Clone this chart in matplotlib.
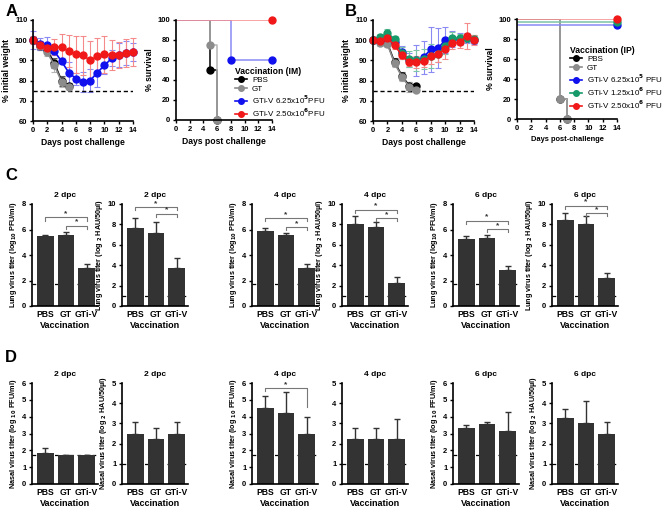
import matplotlib.pyplot as plt
from matplotlib.lines import Line2D

plt.rcParams['font.family'] = ['Liberation Sans', 'DejaVu Sans']
plt.rcParams['font.weight'] = 'bold'
plt.rcParams['axes.labelweight'] = 'bold'
plt.rcParams['axes.titleweight'] = 'bold'

# ---- data ----
days = list(range(15))

# A: weight after IM vaccination
a_pbs = [100, 97, 95, 88.5, 80, 77.5]
a_pbs_err = [1.5, 2, 2, 2.5, 2.5, 1.5]
a_gt = [100, 97, 94, 87.5, 79.5, 77]
a_gt_err = [1.5, 1.5, 2, 3, 2.5, 1]
a_low = [100, 98, 97.5, 94.5, 89.5, 84, 81, 79.5, 80, 84, 87.5, 91, 92.5, 93.5, 94]
a_low_err = [4.5, 3, 4, 2, 1.5, 5, 3, 5, 5.5, 7, 4, 4, 6, 6, 4.5]
a_high = [100, 97.5, 96, 96.5, 96.5, 94.5, 93, 92.5, 90, 92, 93, 92.7, 92.5, 93.5, 94.3]
a_high_err = [2, 2, 2.5, 4, 6.5, 8, 9, 9.5, 9.5, 9, 9, 7.5, 6.5, 7, 7]

# A: survival (step points)
a_surv_pbs_x, a_surv_pbs = [0, 5, 6], [100, 50, 0]
a_surv_gt_x, a_surv_gt = [0, 5, 6], [100, 75, 0]
a_surv_low_x, a_surv_low = [0, 8, 14], [100, 60, 60]
a_surv_high_x, a_surv_high = [0, 14], [100, 100]

# B: weight after IP vaccination
b_pbs = [100, 99.5, 98.5, 89, 82.5, 77.5, 77.2]
b_pbs_err = [1, 1, 1.5, 2, 2, 2, 0.5]
b_gt = [100, 98.5, 98, 88.5, 82, 77, 75.5]
b_gt_err = [1, 1.5, 1.5, 2, 2, 2.5, 1]
b_low = [100, 100, 101.5, 99, 94, 90, 90, 91.5, 95.5, 96, 100, 100.5, 100.5, 101, 100]
b_low_err = [1, 1.5, 2, 2, 3, 3.5, 7.5, 8, 11, 10, 6.5, 4, 3, 2.5, 2]
b_mid = [100, 101.5, 103.5, 100.5, 93.5, 90.5, 90, 90.5, 92, 93, 97, 101, 101, 101, 100.5]
b_mid_err = [1, 1.5, 2, 1.5, 3, 4, 5, 5, 6, 4, 4, 3, 2, 2, 2]
b_high = [100, 99.5, 101, 97.5, 92.5, 89, 89, 89.5, 92, 93, 95.5, 98.5, 99, 102, 100]
b_high_err = [1, 1, 2, 2, 2, 2, 3, 3, 4, 4, 5, 3, 3, 6.5, 2.5]

# B: survival
b_surv_pbs_x, b_surv_pbs = [0, 6, 7], [100, 20, 0]
b_surv_gt_x, b_surv_gt = [0, 6, 7], [100, 20, 0]
b_surv_low_x, b_surv_low = [0, 14], [94, 94]
b_surv_mid_x, b_surv_mid = [0, 14], [97, 97]
b_surv_high_x, b_surv_high = [0, 14], [100, 100]

# C / D: virus titers
groups = ['PBS', 'GT', 'GTi-V']
c_pfu2, c_pfu2_err = [5.5, 5.55, 2.95], [0.1, 0.25, 0.35]
c_hau2, c_hau2_err = [7.6, 7.15, 3.7], [1.05, 1.05, 1.0]
c_pfu4, c_pfu4_err = [5.9, 5.57, 2.97], [0.22, 0.18, 0.3]
c_hau4, c_hau4_err = [8.0, 7.7, 2.27], [0.85, 0.55, 0.55]
c_pfu6, c_pfu6_err = [5.26, 5.37, 2.82], [0.2, 0.2, 0.34]
c_hau6, c_hau6_err = [8.4, 8.0, 2.73], [0.7, 0.8, 0.5]
d_pfu2, d_pfu2_err = [1.83, 1.7, 1.7], [0.33, 0.0, 0.0]
d_hau2, d_hau2_err = [2.5, 2.25, 2.5], [0.57, 0.5, 0.57]
d_pfu4, d_pfu4_err = [4.5, 4.23, 2.95], [0.72, 1.25, 1.05]
d_hau4, d_hau4_err = [2.25, 2.25, 2.25], [0.5, 0.5, 0.95]
d_pfu6, d_pfu6_err = [3.3, 3.57, 3.12], [0.22, 0.12, 1.17]
d_hau6, d_hau6_err = [3.25, 3.0, 2.5], [0.48, 1.12, 0.57]
pfu_lod = 1.7
hau_lod = 1.0

BLACK, GRAY = '#000000', '#8c8c8c'
BLUE, GREEN, RED = '#1010ee', '#169a6a', '#f01818'
LBLUE, LGREEN, LRED, LGRAY = '#8a8af5', '#7cc4a8', '#f58a8a', '#b5b5b5'

W, H = 666, 509
fig = plt.figure(figsize=(6.66, 5.09), dpi=100)


def px_axes(l, t, r, b):
    return fig.add_axes([l / W, 1 - b / H, (r - l) / W, (b - t) / H])


def style(ax):
    for s in ['top', 'right']:
        ax.spines[s].set_visible(False)
    for s in ['left', 'bottom']:
        ax.spines[s].set_linewidth(1.2)
    ax.tick_params(width=1, length=2.5, labelsize=5.5, pad=1.5)


def weight_plot(ax, series):
    for vals, err, color, ecolor in series:
        cont = ax.errorbar(days[:len(vals)], vals, yerr=err, color=color, ecolor=ecolor,
                           elinewidth=0.8, capsize=2, capthick=0.8, marker='o', ms=5, lw=1.2)
        for art in cont.get_children():
            art.set_clip_on(False)
    ax.plot([0, 14], [75, 75], color='k', ls='--', lw=1, dashes=(3, 2))
    ax.set_xlim(0, 14)
    ax.set_ylim(60, 110)
    ax.set_xticks(range(0, 15, 2))
    ax.set_yticks(range(60, 111, 10))
    style(ax)
    ax.set_ylabel('% initial weight', fontsize=6.2, labelpad=3)
    ax.set_xlabel('Days post challenge', fontsize=6.2, labelpad=3)


def survival_plot(ax, series):
    for x, y, lcolor, mcolor in series:
        ax.step(x, y, where='post', color=lcolor, lw=1.1)
        ax.plot(x[1:], y[1:], 'o', color=mcolor, ms=5, clip_on=False)
    ax.set_xlim(0, 14)
    ax.set_ylim(0, 100)
    ax.set_xticks(range(0, 15, 2))
    ax.set_yticks(range(0, 101, 20))
    style(ax)
    ax.set_ylabel('% survival', fontsize=6.2, labelpad=3)


legend_kw = dict(loc='upper left', frameon=False, handlelength=1.5, handletextpad=0.6,
                 labelspacing=0.08, borderpad=0, borderaxespad=0, alignment='left',
                 prop={'size': 5.8, 'weight': 'normal'},
                 title_fontproperties={'size': 6.2, 'weight': 'bold'})

# ---- A ----
ax = px_axes(33, 20, 133, 121)
weight_plot(ax, [(a_pbs, a_pbs_err, BLACK, '#555555'), (a_gt, a_gt_err, GRAY, LGRAY),
                 (a_low, a_low_err, BLUE, LBLUE), (a_high, a_high_err, RED, LRED)])

ax = px_axes(176, 20, 272, 120)
survival_plot(ax, [(a_surv_pbs_x, a_surv_pbs, BLACK, BLACK), (a_surv_gt_x, a_surv_gt, LGRAY, GRAY),
                   (a_surv_low_x, a_surv_low, LBLUE, BLUE), (a_surv_high_x, a_surv_high, LRED, RED)])
ax.set_xlabel('Days post challenge', fontsize=6.2, labelpad=3)
handles = [Line2D([], [], color=c, marker='o', ms=4, lw=1.2) for c in [BLACK, GRAY, BLUE, RED]]
fig.legend(handles, ['PBS', 'GT', 'GTi-V 6.25x10$^5$PFU', 'GTi-V 2.50x10$^6$PFU'],
           title='Vaccination (IM)', bbox_to_anchor=(235 / W, 1 - 67 / H), **legend_kw)

# ---- B ----
ax = px_axes(373, 20, 474, 121)
weight_plot(ax, [(b_pbs, b_pbs_err, BLACK, '#555555'), (b_gt, b_gt_err, GRAY, LGRAY),
                 (b_low, b_low_err, BLUE, LBLUE), (b_mid, b_mid_err, GREEN, LGREEN),
                 (b_high, b_high_err, RED, LRED)])

ax = px_axes(517, 19, 617, 119)
survival_plot(ax, [(b_surv_pbs_x, b_surv_pbs, BLACK, BLACK), (b_surv_gt_x, b_surv_gt, LGRAY, GRAY),
                   (b_surv_low_x, b_surv_low, LBLUE, BLUE), (b_surv_mid_x, b_surv_mid, LGREEN, GREEN),
                   (b_surv_high_x, b_surv_high, LRED, RED)])
ax.set_xlabel('Days post-challenge', fontsize=5.4, labelpad=3)
handles = [Line2D([], [], color=c, marker='o', ms=4, lw=1.2) for c in [BLACK, GRAY, BLUE, GREEN, RED]]
fig.legend(handles, ['PBS', 'GT', 'GTi-V 6.25x10$^5$ PFU', 'GTi-V 1.25x10$^6$ PFU', 'GTi-V 2.50x10$^6$ PFU'],
           title='Vaccination (IP)', bbox_to_anchor=(570 / W, 1 - 46 / H), **legend_kw)


# ---- C / D bars ----
def bar_plot(ax, means, errs, ytop, ystep, lod, title, ylabel, brackets):
    x = range(len(groups))
    ax.plot([-0.65, 2.55], [lod, lod], color='k', ls='--', lw=0.9, dashes=(3, 3), zorder=1)
    ax.bar(x, means, width=0.8, color='#333333', zorder=2)
    ax.errorbar(x, means, yerr=[[0] * len(errs), errs], fmt='none', ecolor='#333333',
                elinewidth=1, capsize=2.5, capthick=1, zorder=2)
    for x1, x2, y, dl, dr in brackets:
        ax.plot([x1, x1, x2, x2], [y - dl, y, y, y - dr], color='#777777', lw=0.8, clip_on=False)
        ax.text((x1 + x2) / 2, y, '*', ha='center', va='bottom', fontsize=6, color='#333333')
    ax.set_xlim(-0.65, 2.55)
    ax.set_ylim(0, ytop)
    ax.set_yticks([i * ystep for i in range(int(round(ytop / ystep)) + 1)])
    ax.set_xticks(list(x))
    ax.set_xticklabels(groups)
    style(ax)
    ax.tick_params(axis='x', length=0, pad=3, labelsize=6.2)
    ax.set_title(title, fontsize=6, pad=5)
    ax.set_xlabel('Vaccination', fontsize=6.5, labelpad=1)
    if ylabel:
        ax.set_ylabel(ylabel, fontsize=5.2, labelpad=2)


lung_pfu = 'Lung virus titer (log$_{\\mathbf{10}}$ PFU/ml)'
lung_hau = 'Lung virus titer (log $_{\\mathbf{2}}$ HAU/50\u00b5l)'
nasal_pfu = 'Nasal virus titer (log $_{\\mathbf{10}}$ PFU/ml)'
nasal_hau = 'Nasal virus titer (log $_{\\mathbf{2}}$ HAU/50\u00b5l)'

lefts = [32, 122, 252, 342, 453, 552]
bw = 66

c_specs = [(c_pfu2, c_pfu2_err, 8, 2, pfu_lod, '2 dpc', lung_pfu, [(0, 2, 6.95, 0.25, 0.25), (1, 2, 6.3, 0.25, 0.25)]),
           (c_hau2, c_hau2_err, 10, 2, hau_lod, '2 dpc', lung_hau, [(0, 2, 9.7, 0.3, 0.3), (1, 2, 9.05, 0.3, 0.3)]),
           (c_pfu4, c_pfu4_err, 8, 2, pfu_lod, '4 dpc', lung_pfu, [(0, 2, 6.9, 0.25, 0.25), (1, 2, 6.2, 0.25, 0.25)]),
           (c_hau4, c_hau4_err, 10, 2, hau_lod, '4 dpc', lung_hau, [(0, 2, 9.45, 0.3, 0.3), (1, 2, 8.65, 0.3, 0.3)]),
           (c_pfu6, c_pfu6_err, 8, 2, pfu_lod, '6 dpc', lung_pfu, [(0, 2, 6.7, 0.25, 0.25), (1, 2, 6.05, 0.25, 0.25)]),
           (c_hau6, c_hau6_err, 10, 2, hau_lod, '6 dpc', lung_hau, [(0, 2, 9.85, 0.3, 0.3), (1, 2, 9.1, 0.3, 0.3)])]
for left, spec in zip(lefts, c_specs):
    ax = px_axes(left, 204, left + bw, 306)
    bar_plot(ax, *spec)

d_specs = [(d_pfu2, d_pfu2_err, 6, 1, pfu_lod, '2 dpc', nasal_pfu, []),
           (d_hau2, d_hau2_err, 5, 1, hau_lod, '2 dpc', nasal_hau, []),
           (d_pfu4, d_pfu4_err, 6, 1, pfu_lod, '4 dpc', nasal_pfu, [(0, 2, 5.7, 0.15, 1.1)]),
           (d_hau4, d_hau4_err, 5, 1, hau_lod, '4 dpc', None, []),
           (d_pfu6, d_pfu6_err, 6, 1, pfu_lod, '6 dpc', nasal_pfu, []),
           (d_hau6, d_hau6_err, 5, 1, hau_lod, '6 dpc', nasal_hau, [])]
for left, spec in zip(lefts, d_specs):
    ax = px_axes(left, 383, left + bw, 484)
    bar_plot(ax, *spec)

for label, x, y in [('A', 6, 11), ('B', 345, 11), ('C', 5, 175), ('D', 5, 358)]:
    fig.text(x / W, 1 - y / H, label, fontsize=12, fontweight='bold', ha='left', va='center')

fig.savefig('out.png', dpi=100)
